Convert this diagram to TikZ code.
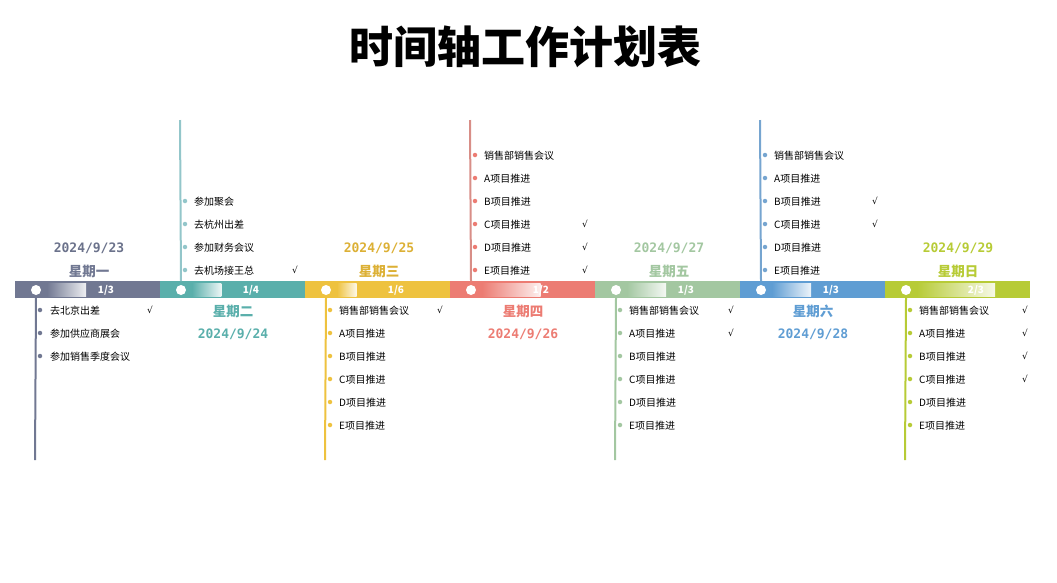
\documentclass[tikz,border=0pt]{standalone}
\usepackage{fontspec}
\setmainfont{Noto Sans CJK SC}
\newfontfamily\datefont{DejaVu Sans Mono}
\newfontfamily\tickfont{DejaVu Sans}
\usepackage{tikz}
\usetikzlibrary{positioning}

\definecolor{monc}{HTML}{717892}
\definecolor{tuec}{HTML}{5AAFAB}
\definecolor{wedc}{HTML}{EEC23F}
\definecolor{thuc}{HTML}{EC7C73}
\definecolor{fric}{HTML}{A3C7A1}
\definecolor{satc}{HTML}{5F9DD3}
\definecolor{sunc}{HTML}{B7CB36}
% lighter line colours
\definecolor{tuel}{HTML}{93C6CA}
\definecolor{thul}{HTML}{D88E87}
\definecolor{satl}{HTML}{76A5D0}
\definecolor{wedt}{HTML}{DCB035}

\begin{document}
\begin{tikzpicture}[x=1pt,y=-1pt,
  bar/.style={minimum width=145pt,minimum height=17pt,inner sep=0pt,outer sep=0pt,anchor=west},
  dot/.style={circle,fill=white,minimum size=10pt,inner sep=0pt},
  frac/.style={font=\bfseries\fontsize{10}{12}\selectfont,text=white,inner sep=0pt},
  item/.style={anchor=west,font=\fontsize{10}{12}\selectfont,inner sep=0pt},
  tick/.style={font=\tickfont\fontsize{9}{11}\selectfont,inner sep=0pt},
  bullet/.style={circle,fill=#1,minimum size=4.5pt,inner sep=0pt},
  day/.style={font=\bfseries\fontsize{13.5}{15}\selectfont,text=#1,inner sep=0pt},
  date/.style={font=\datefont\bfseries\fontsize{13}{15}\selectfont,text=#1,inner sep=0pt},
  stem/.style={draw=#1,line width=2pt}]

\useasboundingbox (0,0) rectangle (1057,582);
\node[font=\bfseries\fontsize{44}{48}\selectfont] (title) at (525,47) {时间轴工作计划表};

% the bar with progress
\foreach \n/\c/\p/\q [count=\i from 0] in {mon/monc/1/3,tue/tuec/1/4,wed/wedc/1/6,thu/thuc/1/2,fri/fric/1/3,sat/satc/1/3,sun/sunc/2/3}{
  \pgfmathsetmacro\xl{15+145*\i}
  \pgfmathsetmacro\xe{\xl+32+117*\p/\q}
  \node[bar,fill=\c] (seg-\n) at (\xl,289.5) {};
  \shade[left color=\c,right color=white!88!\c] (\xl+32,283) rectangle (\xe,296);
  \node[dot] (dot-\n) at (\xl+21,290) {};
  \node[frac] (frac-\n) at (\xl+91,290) {\p/\q};
}

% stems
\coordinate (mon-end) at (35,460);
\coordinate (tue-end) at (180,120);
\coordinate (wed-end) at (325,460);
\coordinate (thu-end) at (470,120);
\coordinate (fri-end) at (615,460);
\coordinate (sat-end) at (760,120);
\coordinate (sun-end) at (905,460);
\draw[stem=monc] (dot-mon |- seg-mon.south) -- (mon-end);
\draw[stem=tuel] (dot-tue |- seg-tue.north) -- (tue-end);
\draw[stem=wedc] (dot-wed |- seg-wed.south) -- (wed-end);
\draw[stem=thul] (dot-thu |- seg-thu.north) -- (thu-end);
\draw[stem=fric] (dot-fri |- seg-fri.south) -- (fri-end);
\draw[stem=satl] (dot-sat |- seg-sat.north) -- (sat-end);
\draw[stem=sunc] (dot-sun |- seg-sun.south) -- (sun-end);

% days and dates
\node[date=monc!95!black] (mon-date) at (89,248) {2024/9/23};
\node[day=monc] (mon-day) at (89,271) {星期一};
\node[day=tuec] (tue-day) at (233,311) {星期二};
\node[date=tuec] (tue-date) at (233,334) {2024/9/24};
\node[date=wedt] (wed-date) at (379,248) {2024/9/25};
\node[day=wedt] (wed-day) at (379,271) {星期三};
\node[day=thuc] (thu-day) at (523,311) {星期四};
\node[date=thuc] (thu-date) at (523,334) {2024/9/26};
\node[date=fric] (fri-date) at (669,248) {2024/9/27};
\node[day=fric] (fri-day) at (669,271) {星期五};
\node[day=satc] (sat-day) at (813,311) {星期六};
\node[date=satc] (sat-date) at (813,334) {2024/9/28};
\node[date=sunc] (sun-date) at (958,248) {2024/9/29};
\node[day=sunc] (sun-day) at (958,271) {星期日};

% items
\foreach \t/\ok [count=\k from 0] in {去北京出差/1,参加供应商展会/0,参加销售季度会议/0}{
  \node[bullet=monc] (mon-b\k) at (40,310+23*\k) {};
  \node[item] (mon-i\k) at (50,311+23*\k) {\t};
  \ifnum\ok=1 \node[tick] (mon-c\k) at (150,310+23*\k) {√}; \fi
}
\foreach \t/\ok [count=\k from 0] in {参加聚会/0,去杭州出差/0,参加财务会议/0,去机场接王总/1}{
  \node[bullet=tuel] (tue-b\k) at (185,201+23*\k) {};
  \node[item] (tue-i\k) at (194,202+23*\k) {\t};
  \ifnum\ok=1 \node[tick] (tue-c\k) at (295,201+23*\k) {√}; \fi
}
\foreach \t/\ok [count=\k from 0] in {销售部销售会议/1,A项目推进/0,B项目推进/0,C项目推进/0,D项目推进/0,E项目推进/0}{
  \node[bullet=wedc] (wed-b\k) at (330,310+23*\k) {};
  \node[item] (wed-i\k) at (339,311+23*\k) {\t};
  \ifnum\ok=1 \node[tick] (wed-c\k) at (440,310+23*\k) {√}; \fi
}
\foreach \t/\ok [count=\k from 0] in {销售部销售会议/0,A项目推进/0,B项目推进/0,C项目推进/1,D项目推进/1,E项目推进/1}{
  \node[bullet=thuc] (thu-b\k) at (475,155+23*\k) {};
  \node[item] (thu-i\k) at (484,156+23*\k) {\t};
  \ifnum\ok=1 \node[tick] (thu-c\k) at (585,155+23*\k) {√}; \fi
}
\foreach \t/\ok [count=\k from 0] in {销售部销售会议/1,A项目推进/1,B项目推进/0,C项目推进/0,D项目推进/0,E项目推进/0}{
  \node[bullet=fric] (fri-b\k) at (620,310+23*\k) {};
  \node[item] (fri-i\k) at (629,311+23*\k) {\t};
  \ifnum\ok=1 \node[tick] (fri-c\k) at (731,310+23*\k) {√}; \fi
}
\foreach \t/\ok [count=\k from 0] in {销售部销售会议/0,A项目推进/0,B项目推进/1,C项目推进/1,D项目推进/0,E项目推进/0}{
  \node[bullet=satl] (sat-b\k) at (765,155+23*\k) {};
  \node[item] (sat-i\k) at (774,156+23*\k) {\t};
  \ifnum\ok=1 \node[tick] (sat-c\k) at (875,155+23*\k) {√}; \fi
}
\foreach \t/\ok [count=\k from 0] in {销售部销售会议/1,A项目推进/1,B项目推进/1,C项目推进/1,D项目推进/0,E项目推进/0}{
  \node[bullet=sunc] (sun-b\k) at (910,310+23*\k) {};
  \node[item] (sun-i\k) at (919,311+23*\k) {\t};
  \ifnum\ok=1 \node[tick] (sun-c\k) at (1025,310+23*\k) {√}; \fi
}
\end{tikzpicture}
\end{document}
